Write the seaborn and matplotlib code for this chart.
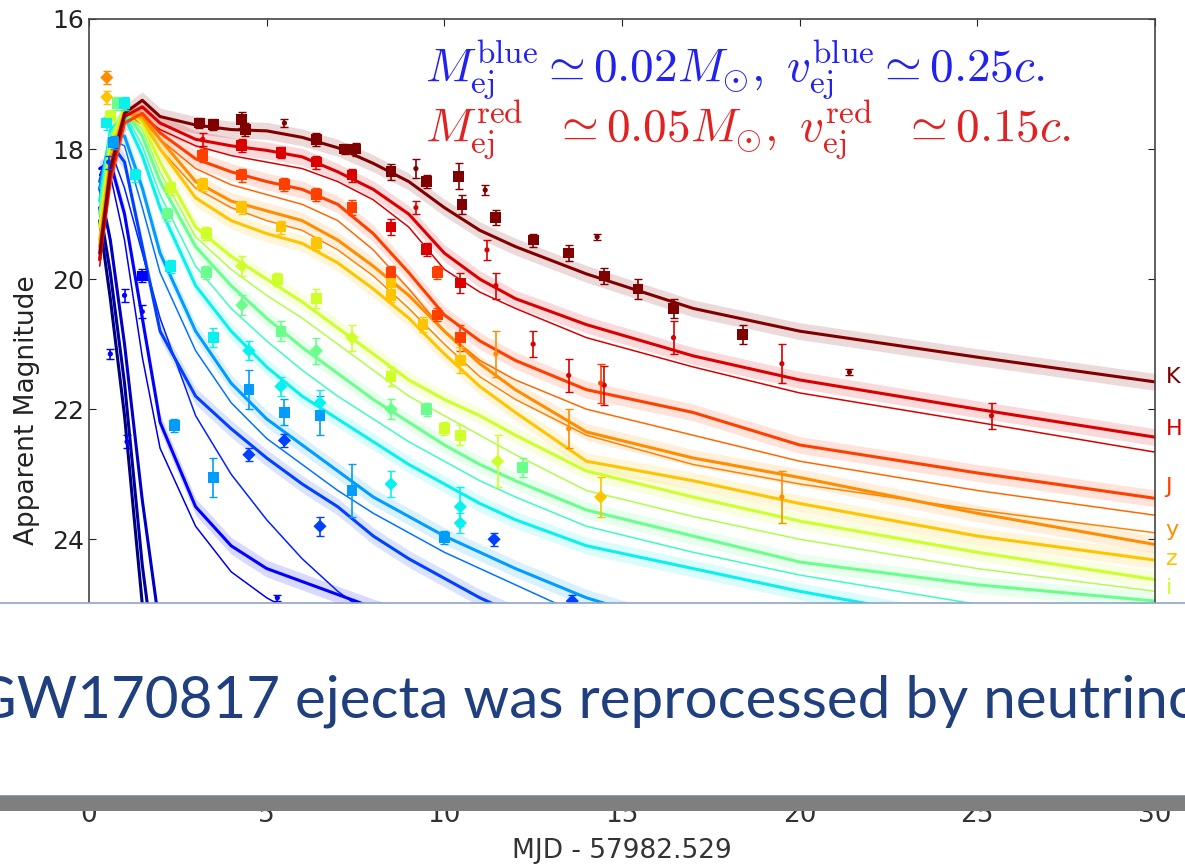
import numpy as np
import pandas as pd
import seaborn as sns
import matplotlib
import matplotlib.pyplot as plt
from matplotlib.patches import Rectangle

# model light curves (mag vs days since merger)
t_grid = [0.3, 0.6, 1.0, 1.5, 2, 3, 4, 5, 6, 7, 8, 9, 10, 11, 12, 14, 17, 20, 25, 30]
bands = ['K', 'H', 'J', 'y', 'z', 'i', 'r', 'g', 'V', 'B', 'U', 'UVW1', 'UVM2', 'UVW2']
jet_pos = [1.0, 0.92, 0.84, 0.76, 0.70, 0.60, 0.48, 0.36, 0.28, 0.19, 0.11, 0.06, 0.03, 0.0]
mag_K = [19.6, 18.3, 17.45, 17.25, 17.5, 17.63, 17.7, 17.72, 17.82, 17.98, 18.22, 18.5, 18.9, 19.25, 19.5, 19.92, 20.45, 20.8, 21.2, 21.58]
mag_H = [19.7, 18.4, 17.5, 17.35, 17.6, 17.85, 17.95, 18.02, 18.12, 18.35, 18.62, 19.0, 19.6, 20.0, 20.3, 20.7, 21.18, 21.55, 22.0, 22.43]
mag_J = [19.7, 18.5, 17.6, 17.45, 17.75, 18.15, 18.35, 18.5, 18.62, 18.85, 19.3, 19.9, 20.55, 20.95, 21.25, 21.7, 22.05, 22.55, 22.98, 23.37]
mag_y = [19.5, 18.2, 17.45, 17.5, 17.85, 18.5, 18.8, 18.95, 19.1, 19.4, 19.8, 20.25, 20.8, 21.3, 21.7, 22.35, 22.75, 23.05, 23.6, 24.08]
mag_z = [19.4, 18.1, 17.4, 17.55, 18.0, 18.75, 19.1, 19.3, 19.45, 19.75, 20.15, 20.6, 21.15, 21.65, 22.05, 22.8, 23.1, 23.45, 23.95, 24.32]
mag_i = [19.2, 17.9, 17.35, 17.6, 18.2, 19.2, 19.65, 20.0, 20.35, 20.75, 21.15, 21.55, 21.85, 22.1, 22.4, 22.95, 23.35, 23.72, 24.2, 24.62]
mag_r = [19.0, 17.8, 17.4, 17.8, 18.5, 19.5, 20.1, 20.6, 21.05, 21.45, 21.85, 22.2, 22.55, 22.85, 23.1, 23.55, 23.95, 24.35, 24.7, 24.95]
mag_g = [18.8, 17.7, 17.5, 18.1, 18.9, 20.1, 20.8, 21.35, 21.8, 22.15, 22.5, 22.85, 23.15, 23.45, 23.7, 24.1, 24.45, 24.8, 25.3, 25.7]
mag_V = [18.6, 17.8, 17.8, 18.6, 19.6, 20.8, 21.6, 22.15, 22.55, 22.95, 23.35, 23.65, 23.95, 24.2, 24.45, 24.9, 25.4, 25.9, 26.5, 27.0]
mag_B = [18.5, 17.9, 18.2, 19.5, 20.8, 21.8, 22.3, 22.75, 23.15, 23.5, 23.95, 24.3, 24.6, 24.9, 25.15, 25.6, 26.1, 26.6, 27.2, 27.8]
mag_U = [18.3, 18.2, 19.0, 20.6, 22.2, 23.5, 24.1, 24.45, 24.65, 24.85, 25.05, 25.2, 25.35, 25.5, 25.6, 25.9, 26.3, 26.7, 27.2, 27.7]
mag_UVW1 = [18.6, 19.4, 21.0, 23.4, 25.4, 27.5, 28.5, 29.2, 29.7, 30.0, 30.3, 30.5, 30.7, 30.9, 31.0, 31.3, 31.7, 32.0, 32.5, 33.0]
mag_UVM2 = [18.9, 19.9, 21.6, 24.4, 26.5, 28.3, 29.3, 30.0, 30.4, 30.7, 31.0, 31.2, 31.4, 31.6, 31.8, 32.1, 32.5, 32.8, 33.3, 33.8]
mag_UVW2 = [19.1, 20.3, 22.1, 25.0, 27.0, 28.8, 29.8, 30.4, 30.8, 31.1, 31.4, 31.6, 31.8, 32.0, 32.2, 32.5, 32.9, 33.2, 33.7, 34.2]
model_mags = [mag_K, mag_H, mag_J, mag_y, mag_z, mag_i, mag_r, mag_g, mag_V, mag_B, mag_U, mag_UVW1, mag_UVM2, mag_UVW2]

# thinner companion curves seen beside the main fits
thin_pos = [0.92, 0.80, 0.77, 0.56, 0.42, 0.24, 0.16, 0.09]
thin_H = [19.8, 18.5, 17.6, 17.5, 17.7, 17.95, 18.1, 18.2, 18.3, 18.5, 18.78, 19.2, 19.85, 20.2, 20.45, 20.9, 21.35, 21.75, 22.2, 22.66]
thin_J = [19.6, 18.4, 17.55, 17.55, 17.85, 18.3, 18.55, 18.7, 18.85, 19.1, 19.55, 20.15, 20.8, 21.25, 21.55, 22.0, 22.4, 22.8, 23.25, 23.63]
thin_y = [19.5, 18.3, 17.5, 17.6, 18.0, 18.6, 18.9, 19.1, 19.25, 19.55, 19.95, 20.45, 21.0, 21.5, 21.85, 22.4, 22.85, 23.15, 23.55, 23.9]
thin_i = [19.1, 17.85, 17.4, 17.7, 18.35, 19.35, 19.85, 20.25, 20.6, 21.0, 21.4, 21.8, 22.1, 22.4, 22.7, 23.25, 23.65, 24.0, 24.45, 24.8]
thin_g = [18.9, 17.75, 17.45, 17.95, 18.7, 19.8, 20.45, 20.95, 21.4, 21.8, 22.15, 22.5, 22.8, 23.1, 23.35, 23.8, 24.2, 24.55, 25.0, 25.35]
thin_V = [18.55, 17.85, 17.95, 18.9, 19.9, 21.1, 21.9, 22.45, 22.85, 23.25, 23.6, 23.9, 24.2, 24.45, 24.7, 25.2, 25.7, 26.2, 26.8, 27.3]
thin_B = [18.4, 18.0, 18.6, 19.6, 20.6, 22.1, 23.0, 23.7, 24.3, 24.8, 25.2, 25.5, 25.8, 26.0, 26.2, 26.6, 27.1, 27.6, 28.2, 28.8]
thin_U = [18.4, 18.4, 19.4, 21.2, 22.6, 23.8, 24.5, 24.9, 25.2, 25.4, 25.6, 25.8, 26.0, 26.2, 26.4, 26.7, 27.1, 27.5, 28.0, 28.5]
thin_mags = [thin_H, thin_J, thin_y, thin_i, thin_g, thin_V, thin_B, thin_U]

# observed points: band, day, mag, error, marker
obs_band = ['K'] * 23 + ['H'] * 17 + ['J'] * 10 + ['z', 'z', 'z', 'z', 'z', 'z', 'z', 'z', 'y', 'y', 'z', 'y'] \
    + ['i'] * 10 + ['r'] * 8 + ['g'] * 9 + ['V', 'V', 'V', 'V', 'V', 'B', 'B', 'B', 'V', 'V', 'B', 'B'] + ['U'] * 6 \
    + ['y', 'z', 'i', 'g', 'r', 'V', 'B', 'g']
obs_t = [3.1, 3.5, 4.3, 4.4, 5.5, 6.4, 7.2, 7.5, 8.5, 9.2, 9.5, 10.4, 10.5, 11.15, 11.45, 12.5, 13.5, 14.3, 14.5, 15.45, 16.45, 18.4, 21.4,
         3.2, 4.3, 5.4, 6.4, 7.4, 8.5, 9.2, 9.5, 10.45, 11.2, 11.45, 12.5, 13.5, 14.5, 16.45, 19.5, 25.4,
         3.2, 4.3, 5.5, 6.4, 7.4, 8.5, 9.8, 9.8, 10.45, 14.4,
         3.2, 4.3, 5.4, 6.4, 8.5, 8.5, 9.4, 10.45, 11.45, 13.5, 14.4, 19.5,
         2.3, 3.3, 4.3, 5.3, 6.4, 7.4, 8.5, 10.0, 10.45, 11.5,
         2.2, 3.3, 4.3, 5.4, 6.4, 8.5, 9.5, 12.2,
         1.3, 2.3, 3.5, 4.5, 5.4, 6.5, 8.5, 10.45, 10.45,
         2.4, 3.5, 4.5, 5.5, 6.5, 4.5, 5.5, 6.5, 7.4, 10.0, 11.4, 13.6,
         0.6, 1.0, 1.07, 1.5, 1.5, 5.3,
         0.5, 0.5, 0.6, 0.5, 0.8, 0.7, 0.55, 1.0]
obs_mag = [17.6, 17.62, 17.55, 17.7, 17.6, 17.85, 18.0, 18.0, 18.35, 18.3, 18.5, 18.42, 18.85, 18.63, 19.05, 19.4, 19.6, 19.35, 19.95, 20.15, 20.45, 20.85, 21.43,
           17.85, 17.95, 18.05, 18.2, 18.4, 19.2, 18.9, 19.55, 20.06, 19.55, 20.1, 21.0, 21.48, 21.63, 20.9, 21.3, 22.1,
           18.1, 18.4, 18.55, 18.7, 18.9, 19.9, 19.9, 20.55, 20.9, 21.6,
           18.55, 18.9, 19.2, 19.45, 20.06, 20.25, 20.7, 21.25, 21.15, 22.3, 23.35, 23.35,
           18.6, 19.3, 19.8, 20.0, 20.3, 20.9, 21.5, 22.3, 22.4, 22.8,
           19.0, 19.9, 20.4, 20.8, 21.1, 22.0, 22.0, 22.9,
           18.4, 19.8, 20.9, 21.1, 21.65, 21.9, 23.15, 23.5, 23.75,
           22.25, 23.05, 21.7, 22.05, 22.1, 22.7, 22.48, 23.8, 23.25, 23.97, 24.0, 24.95,
           21.15, 20.25, 22.5, 19.95, 20.5, 24.9,
           16.9, 17.2, 17.5, 17.6, 17.3, 17.9, 18.2, 17.3]
obs_err = [0.08, 0.08, 0.12, 0.1, 0.06, 0.1, 0.08, 0.1, 0.12, 0.15, 0.1, 0.2, 0.15, 0.08, 0.12, 0.1, 0.12, 0.05, 0.12, 0.15, 0.15, 0.15, 0.05,
           0.1, 0.1, 0.08, 0.1, 0.1, 0.12, 0.1, 0.1, 0.15, 0.15, 0.2, 0.2, 0.25, 0.3, 0.25, 0.3, 0.2,
           0.1, 0.1, 0.1, 0.1, 0.12, 0.1, 0.1, 0.1, 0.2, 0.3,
           0.1, 0.1, 0.1, 0.1, 0.1, 0.1, 0.12, 0.2, 0.35, 0.3, 0.3, 0.4,
           0.1, 0.1, 0.15, 0.1, 0.15, 0.2, 0.15, 0.1, 0.15, 0.4,
           0.1, 0.1, 0.15, 0.15, 0.2, 0.15, 0.1, 0.15,
           0.1, 0.1, 0.15, 0.15, 0.15, 0.2, 0.2, 0.3, 0.15,
           0.1, 0.3, 0.3, 0.2, 0.3, 0.1, 0.1, 0.15, 0.4, 0.1, 0.1, 0.1,
           0.08, 0.1, 0.1, 0.1, 0.1, 0.05,
           0.1, 0.1, 0.1, 0.1, 0.1, 0.1, 0.1, 0.1]
obs_marker = ['s', 's', 's', 's', 'o', 's', 's', 's', 's', 'o', 's', 's', 's', 'o', 's', 's', 's', 'o', 's', 's', 's', 's', 'o',
              'o', 's', 's', 's', 's', 's', 'o', 's', 's', 'o', 'o', 'o', 'o', 'o', 'o', 'o', 'o',
              's', 's', 's', 's', 's', 's', 's', 's', 's', 'o',
              's', 's', 's', 's', 's', 's', 's', 's', 'o', 'o', 'D', 'o',
              's', 's', 'D', 's', 's', 'D', 's', 's', 's', 'D',
              's', 's', 'D', 's', 'D', 'D', 's', 's',
              's', 's', 's', 'D', 'D', 'D', 'D', 'D', 'D',
              's', 's', 's', 's', 's', 'D', 'D', 'D', 's', 's', 'D', 'D',
              'o', 'o', 'o', 's', 'o', 'o',
              'D', 'D', 's', 's', 's', 's', 'o', 's']
edge_labels = ['K', 'H', 'J', 'y', 'z', 'i']

jet = matplotlib.colormaps['jet']
palette = {b: jet(p) for b, p in zip(bands, jet_pos)}

rows = []
for b, mags in zip(bands, model_mags):
    for t, m in zip(t_grid, mags):
        rows.append((b, t, m))
models = pd.DataFrame(rows, columns=['band', 't', 'mag'])
rows = []
for k, mags in enumerate(thin_mags):
    for t, m in zip(t_grid, mags):
        rows.append(('thin%d' % k, t, m))
thin = pd.DataFrame(rows, columns=['curve', 't', 'mag'])
thin_palette = {'thin%d' % k: jet(p) for k, p in enumerate(thin_pos)}
obs = pd.DataFrame({'band': obs_band, 't': obs_t, 'mag': obs_mag, 'err': obs_err, 'marker': obs_marker})

sns.set_style('ticks')
plt.rcParams['font.family'] = ['DejaVu Sans']
plt.rcParams['mathtext.fontset'] = 'cm'

fig = plt.figure(figsize=(11.85, 8.65), dpi=100)
W, H = 1185.0, 865.0
ax = fig.add_axes([89 / W, 1 - 603 / H, 1066 / W, 584 / H])

for b in bands[::-1]:
    d = models[models.band == b]
    ax.fill_between(d.t, d.mag - 0.13, d.mag + 0.13, color=palette[b], alpha=0.15, lw=0)
sns.lineplot(data=thin, x='t', y='mag', hue='curve', palette=thin_palette,
             estimator=None, sort=False, lw=1.1, legend=False, ax=ax)
sns.lineplot(data=models, x='t', y='mag', hue='band', hue_order=bands[::-1], palette=palette,
             estimator=None, sort=False, lw=2.2, legend=False, ax=ax)

for mk, size in [('s', 60), ('D', 45), ('o', 14)]:
    sub = obs[obs.marker == mk]
    for b in bands:
        s = sub[sub.band == b]
        if len(s) == 0:
            continue
        ax.errorbar(s.t, s.mag, yerr=s.err, fmt='none', ecolor=palette[b], elinewidth=1.2, capsize=3, zorder=4)
    sns.scatterplot(data=sub, x='t', y='mag', hue='band', palette=palette, marker=mk, s=size,
                    edgecolor='none', legend=False, ax=ax, zorder=5)

ax.set_xlim(0, 30)
ax.set_ylim(24.98, 16)
ax.set_yticks([16, 18, 20, 22, 24])
ax.set_xticks([0, 5, 10, 15, 20, 25, 30])
ax.tick_params(direction='in', top=True, right=True, bottom=False, labelbottom=False,
               labelsize=18, length=5, colors='#222222')
for sp in ['left', 'right', 'top']:
    ax.spines[sp].set_color('#444444')
    ax.spines[sp].set_linewidth(1.2)
ax.spines['bottom'].set_visible(False)
ax.set_xlabel('')
ax.set_ylabel('Apparent Magnitude', fontsize=19, color='#222222')
ax.yaxis.set_label_coords(-0.046, 0.33)

# band names at the right edge
label_mag = {'K': 21.5, 'H': 22.3, 'J': 23.2, 'y': 23.85, 'z': 24.3, 'i': 24.75}
for b in edge_labels:
    ax.text(30.3, label_mag[b], b, color=palette[b], fontsize=16, va='center', ha='left', clip_on=False)

ax.text(0.315, 0.893,
        r'$M_{\rm ej}^{\rm blue}\simeq 0.02M_{\odot},\ v_{\rm ej}^{\rm blue}\simeq 0.25c.$',
        transform=ax.transAxes, color='#2222ee', fontsize=34, ha='left', va='baseline')
ax.text(0.315, 0.79,
        r'$M_{\rm ej}^{\rm red}\ \ \simeq 0.05M_{\odot},\ v_{\rm ej}^{\rm red}\ \ \simeq 0.15c.$',
        transform=ax.transAxes, color='#e02222', fontsize=34, ha='left', va='baseline')

# slide overlay across the lower part
fig.add_artist(Rectangle((0, 1 - 796 / H), 1, 193 / H, transform=fig.transFigure,
                         facecolor='white', edgecolor='none', zorder=3))
fig.add_artist(plt.Line2D([0, 1], [1 - 603 / H] * 2, transform=fig.transFigure, color='#8ea5c8', lw=1.2, zorder=4))
fig.add_artist(plt.Line2D([0, 1], [1 - 796 / H] * 2, transform=fig.transFigure, color='#6f8fc0', lw=1.2, zorder=4))
fig.add_artist(Rectangle((0, 1 - 811 / H), 1, 15 / H, transform=fig.transFigure,
                         facecolor='#7f7f7f', edgecolor='none', zorder=4))
fig.text(-26 / W, 1 - 717 / H, 'GW170817 ejecta was reprocessed by neutrinos', color='#203f7f',
         fontsize=42, family='Lato', ha='left', va='baseline', zorder=5)

# the x axis of the original plot, partly hidden under the grey bar
axb = fig.add_axes([89 / W, 1 - 802 / H, 1066 / W, 1 / H])
axb.set_xlim(0, 30)
axb.set_xticks([0, 5, 10, 15, 20, 25, 30])
axb.set_yticks([])
axb.patch.set_visible(False)
for sp in axb.spines.values():
    sp.set_visible(False)
axb.tick_params(length=0, pad=0, labelsize=19, colors='#333333')
fig.text(622 / W, 1 - 851 / H, 'MJD - 57982.529', ha='center', va='center', fontsize=19, color='#333333')

fig.savefig('out.png', dpi=100)
